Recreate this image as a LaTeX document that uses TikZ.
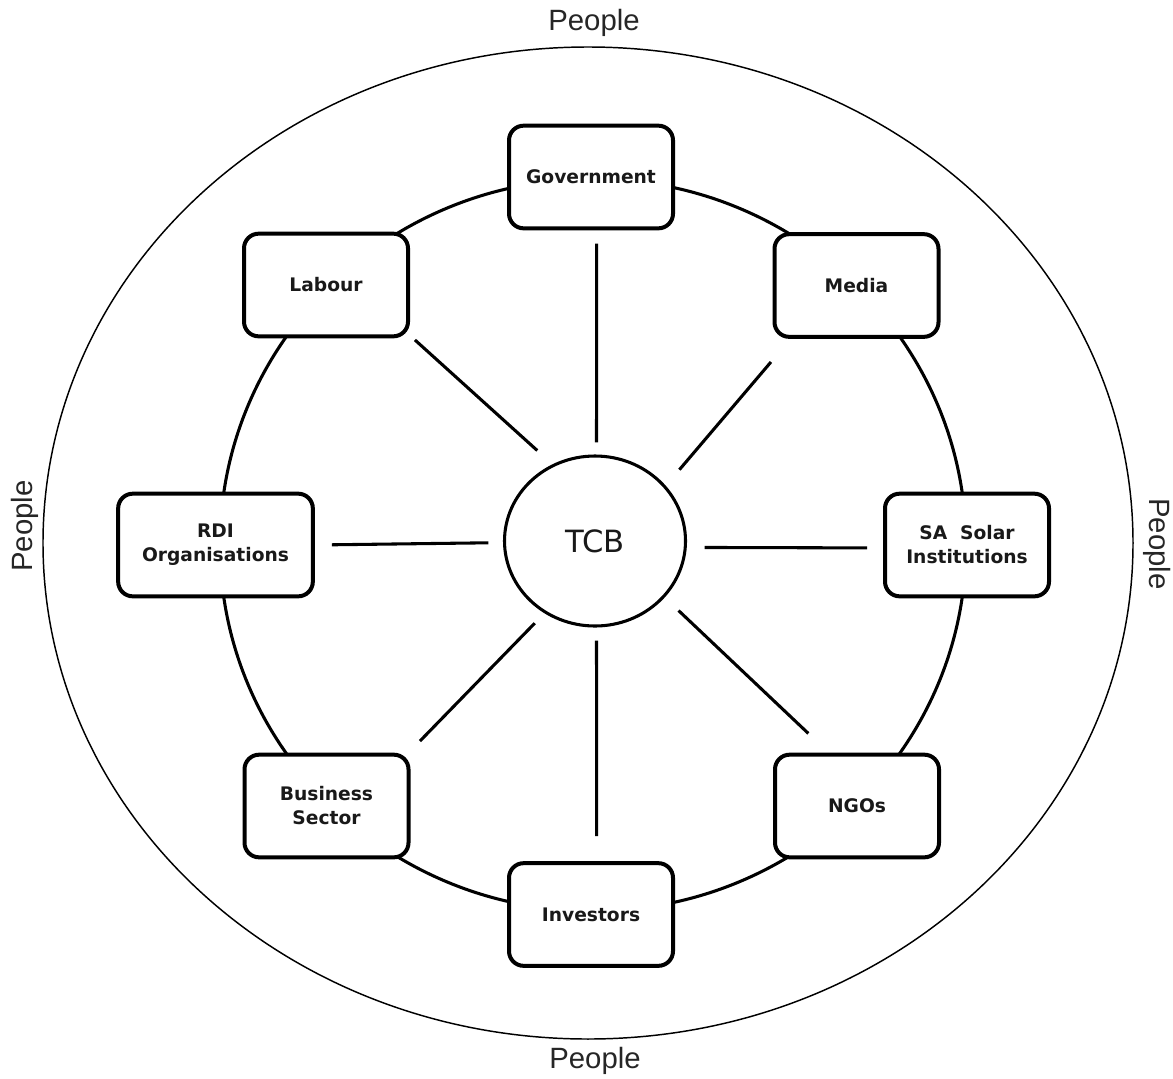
\documentclass[tikz,border=0pt]{standalone}
\usepackage{fontspec}
\usetikzlibrary{shapes.geometric}
\newfontfamily\boxfont{DejaVu Sans}
\newfontfamily\peoplefont{Liberation Sans}
\begin{document}
\begin{tikzpicture}[x=0.75pt,y=-0.75pt,
  actor/.style={draw, rounded corners=11pt, line width=3pt, fill=white,
    minimum width=123pt, minimum height=77pt, inner sep=0pt, align=center,
    font=\boxfont\bfseries\fontsize{14}{18}\selectfont, text=black!90},
  spoke/.style={line width=2.3pt},
  ring/.style={draw, ellipse, inner sep=0pt},
  peoplelabel/.style={font=\peoplefont\fontsize{22}{26}\selectfont, text=black!85}
]
\useasboundingbox (0,0) rectangle (1173,1078);

% outer boundary and the ring of stakeholders
\node[ring, line width=1.1pt, minimum width=817.5pt, minimum height=744pt] (outer) at (588,543) {};
\node[ring, line width=2.3pt, minimum width=559.5pt, minimum height=549pt] (circle) at (593,545) {};

% centre
\node[ring, line width=2.3pt, fill=white, minimum width=135.75pt, minimum height=127.5pt,
  font=\boxfont\fontsize{23}{26}\selectfont, text=black!90] (tcb) at (595,541) {TCB};

% stakeholder boxes
\node[actor] (gov) at (591,177) {Government};
\node[actor] (lab) at (326,285) {Labour};
\node[actor] (med) at (856.5,285.5) {Media};
\node[actor, minimum width=146pt] (rdi) at (215.5,545) {RDI\\Organisations};
\node[actor] (sa)  at (967,545) {SA~~Solar\\Institutions};
\node[actor] (bus) at (326.5,806) {Business\\Sector};
\node[actor] (ngo) at (857,806) {NGOs};
\node[actor] (inv) at (591,914.5) {Investors};

% spokes from the centre, each stopping short of both ends
\draw[spoke, shorten <=9pt,    shorten >=10pt]   (tcb.89.3)  -- (gov.-84.5);
\draw[spoke, shorten <=15.4pt, shorten >=5pt]    (tcb.119)   -- (lab.-31.6);
\draw[spoke, shorten <=15.75pt,shorten >=22.8pt] (tcb.38.5)  -- (med.-141);
\draw[spoke, shorten <=11pt,   shorten >=12.75pt](tcb.181.9) -- (rdi.0.6);
\draw[spoke, shorten <=13.4pt, shorten >=12pt]   (tcb.-4.4)  -- (sa.182.1);
\draw[spoke, shorten <=10.4pt, shorten >=12.2pt] (tcb.235.4) -- (bus.33.1);
\draw[spoke, shorten <=14.25pt,shorten >=21pt]   (tcb.-39.4) -- (ngo.118);
\draw[spoke, shorten <=9.75pt, shorten >=18.75pt](tcb.-89.3) -- (inv.84.5);

% labels round the outer boundary
\node[peoplelabel] (ptop) at (594,23) {People};
\node[peoplelabel] (pbot) at (595,1061) {People};
\node[peoplelabel, rotate=90] (pleft) at (25,526) {People};
\node[peoplelabel, rotate=-90] (pright) at (1157,544) {People};
\end{tikzpicture}
\end{document}
